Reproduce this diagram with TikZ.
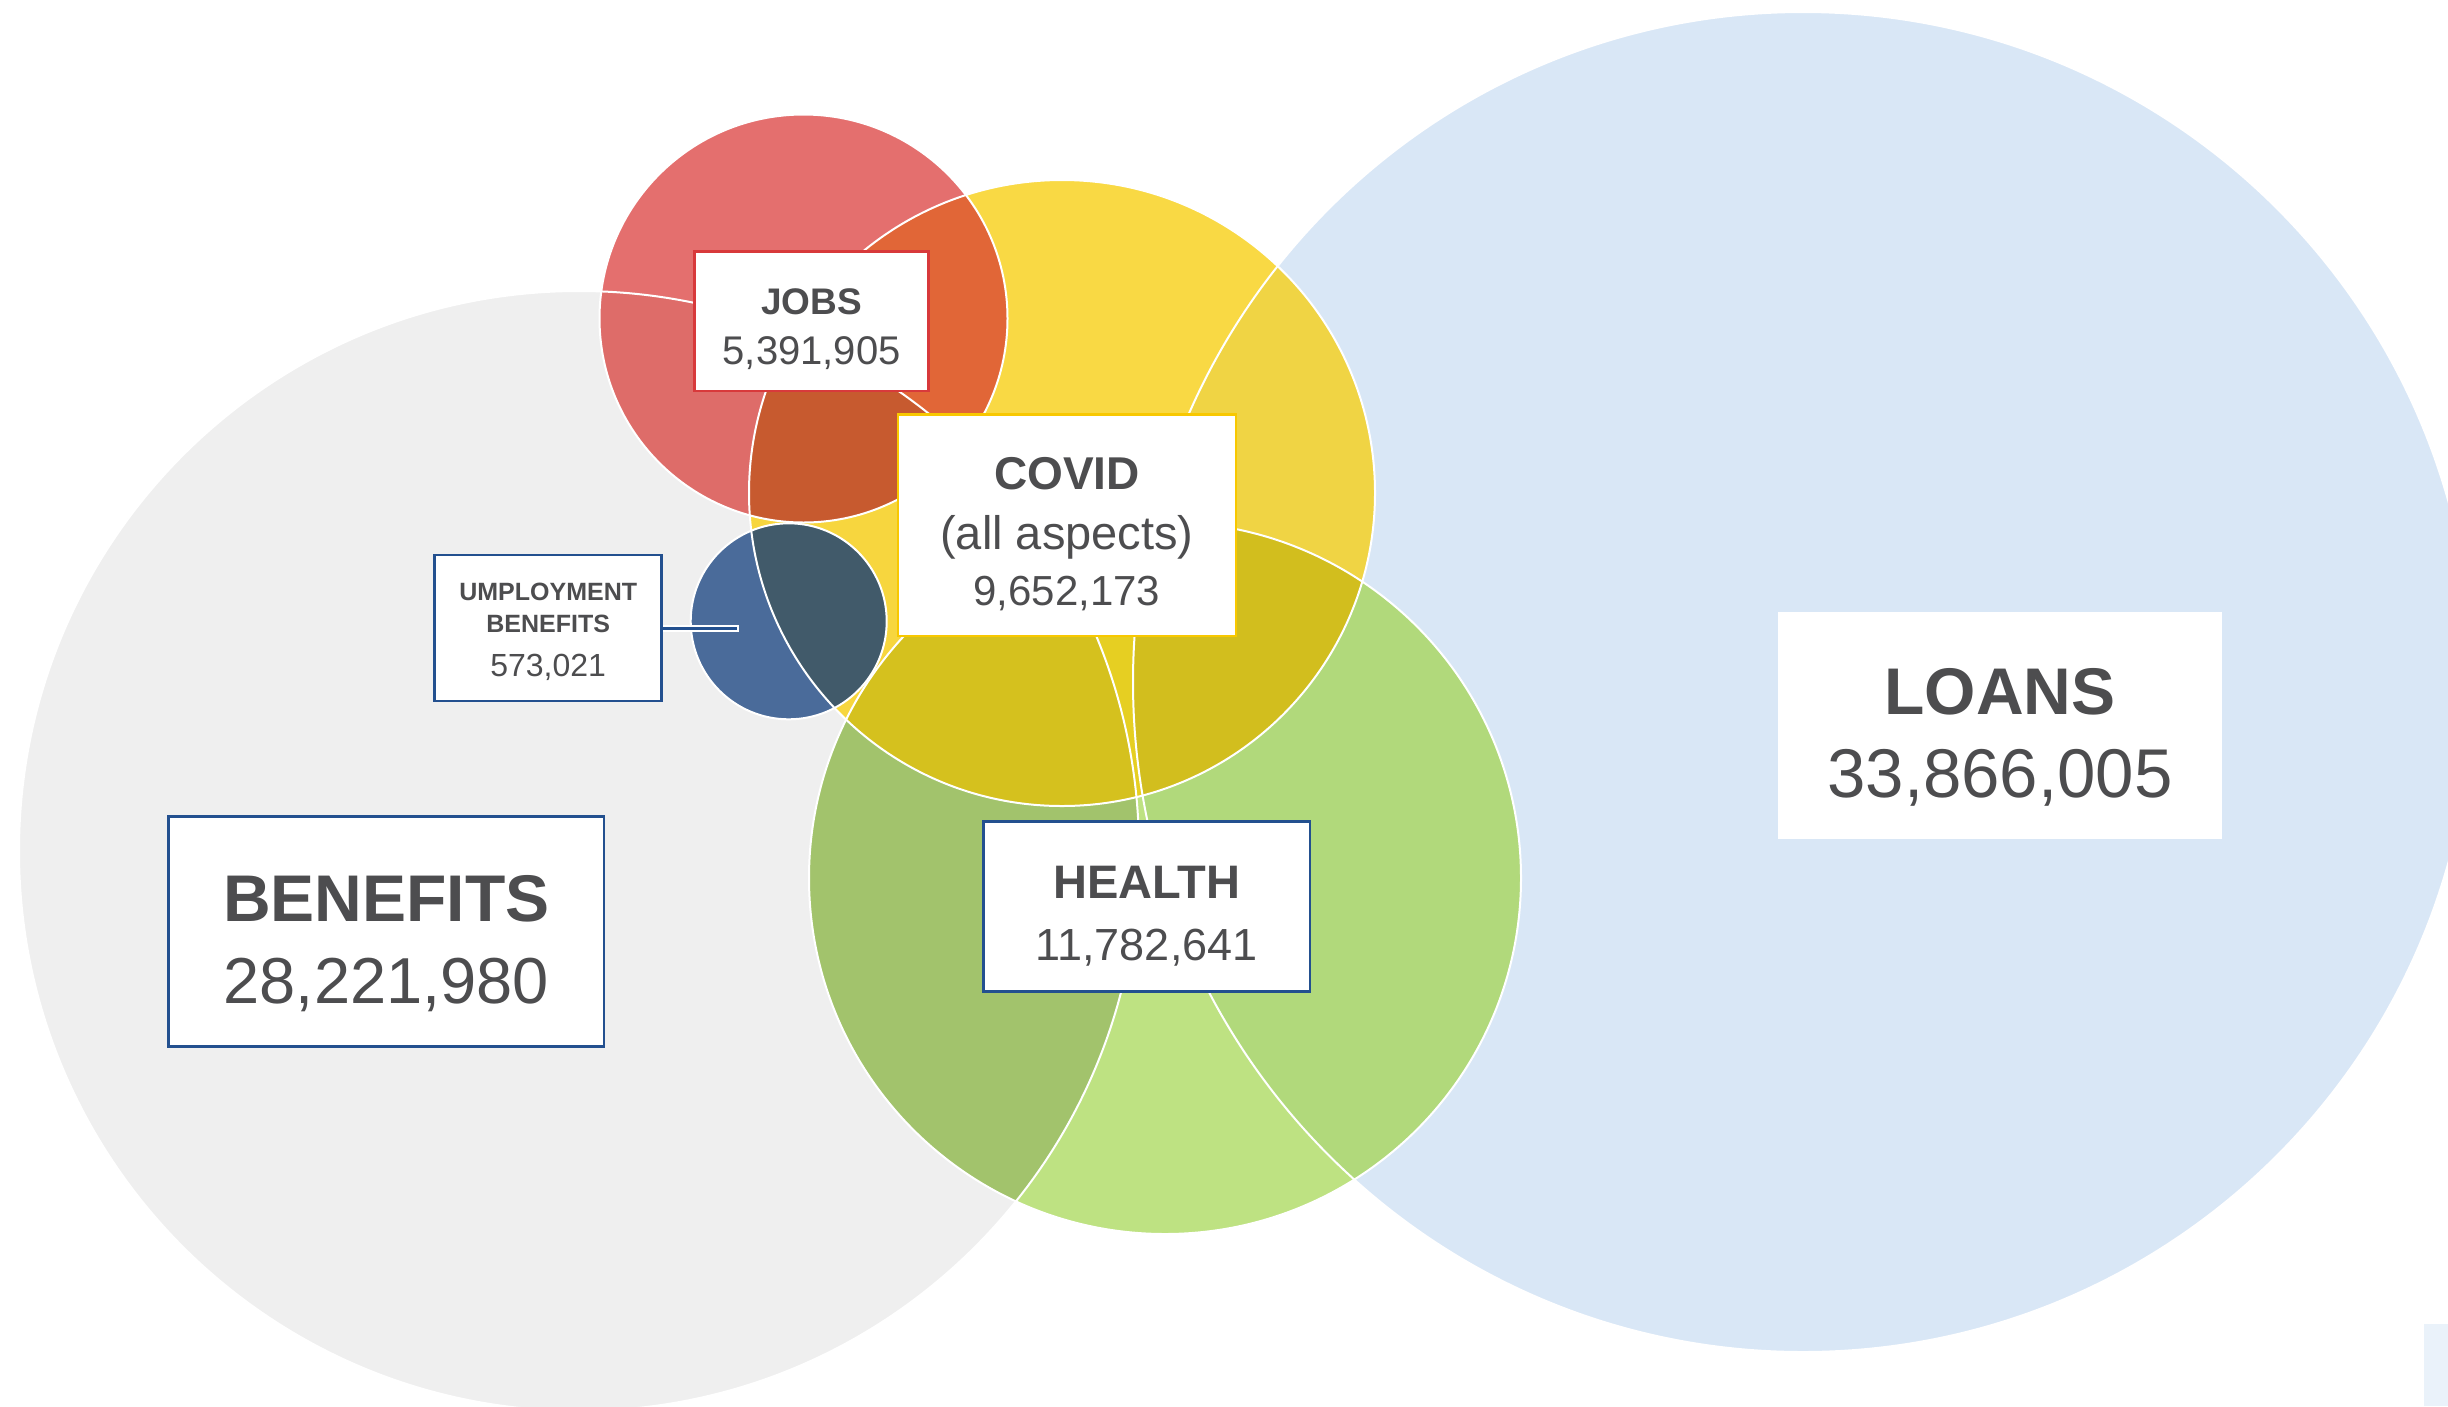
\documentclass[tikz,border=0pt]{standalone}
\usepackage{fontspec}
\setmainfont{Liberation Sans}
\definecolor{txt}{HTML}{4D4D4F}
\definecolor{cL}{HTML}{D9E7F6}
\definecolor{cB}{HTML}{EFEFEF}
\definecolor{cJ}{HTML}{E46F6E}
\definecolor{cJB}{HTML}{DE6C69}
\definecolor{cJC}{HTML}{E16637}
\definecolor{cJCB}{HTML}{C75A2F}
\definecolor{cC}{HTML}{F9D944}
\definecolor{cCL}{HTML}{F0D444}
\definecolor{cCB}{HTML}{F7D63E}
\definecolor{cCH}{HTML}{E6CF22}
\definecolor{cCHB}{HTML}{D5C11E}
\definecolor{cCHL}{HTML}{D2BE1E}
\definecolor{cH}{HTML}{BEE282}
\definecolor{cHB}{HTML}{A2C36C}
\definecolor{cHL}{HTML}{B1D97B}
\definecolor{cU}{HTML}{4A6B9A}
\definecolor{cUC}{HTML}{415A6A}
\definecolor{navy}{HTML}{23508F}
\definecolor{jred}{HTML}{D8393B}
\definecolor{gold}{HTML}{F8C800}
\definecolor{corner}{HTML}{EAF2FA}
\newcommand{\cirL}{(1803,682) circle[radius=670pt]}
\newcommand{\cirB}{(579,851) circle[radius=560pt]}
\newcommand{\cirJ}{(803.5,318.5) circle[radius=204pt]}
\newcommand{\cirC}{(1062,493) circle[radius=313pt]}
\newcommand{\cirH}{(1165,878) circle[radius=356pt]}
\newcommand{\cirU}{(788.7,621.3) circle[radius=98pt]}
\tikzset{
  labelbox/.style={rectangle, fill=white, line width=2.5pt, inner sep=0pt, outer sep=0pt},
  edge/.style={draw=white, line width=2pt},
  bigbold/.style={anchor=base, text=txt, inner sep=0pt, font=\fontsize{66}{66}\selectfont\bfseries},
  bignum/.style={anchor=base, text=txt, inner sep=0pt, font=\fontsize{66}{66}\selectfont},
}
\begin{document}
\begin{tikzpicture}[x=1pt,y=-1pt]
\useasboundingbox (0,0) rectangle (2448,1406);
\fill[white] (0,0) rectangle (2448,1406);
% base circles
\fill[cL] \cirL;
\fill[cB] \cirB;
\fill[cJ] \cirJ;
\fill[cC] \cirC;
\fill[cH] \cirH;
% pairwise overlaps
\begin{scope}\clip \cirJ; \fill[cJB] \cirB; \end{scope}
\begin{scope}\clip \cirC;
  \fill[cJC] \cirJ; \fill[cCL] \cirL; \fill[cCB] \cirB; \fill[cCH] \cirH;
\end{scope}
\begin{scope}\clip \cirH; \fill[cHB] \cirB; \fill[cHL] \cirL; \end{scope}
% triple overlaps
\begin{scope}\clip \cirC; \clip \cirJ; \fill[cJCB] \cirB; \end{scope}
\begin{scope}\clip \cirC; \clip \cirH; \fill[cCHB] \cirB; \fill[cCHL] \cirL; \end{scope}
% unemployment (inside benefits)
\fill[cU] \cirU;
\begin{scope}\clip \cirU; \fill[cUC] \cirC; \end{scope}
% white outlines
\draw[edge] \cirL;
\draw[edge] \cirB;
\draw[edge] \cirJ;
\draw[edge] \cirC;
\draw[edge] \cirH;
\draw[edge] \cirU;
% corner patch
\fill[corner] (2424,1324) rectangle (2448,1406);
% connector
\coordinate (uend) at (739,628);
\node[labelbox, draw=navy, minimum width=227pt, minimum height=145.7pt] (ubox) at (548.2,628) {};
\draw[white, line width=7pt] (ubox.east) -- (uend);
\draw[navy, line width=3pt] (ubox.east) -- ([xshift=-2pt]uend);
\node[labelbox, draw=navy, minimum width=227pt, minimum height=145.7pt] (ubox2) at (548.2,628) {};
% boxes
\node[labelbox, draw=navy, minimum width=435.3pt, minimum height=230pt] (bbox) at (386.35,931.7) {};
\node[labelbox, draw=none, minimum width=444pt, minimum height=227pt] (lbox) at (2000,725.5) {};
\node[labelbox, draw=jred, minimum width=234pt, minimum height=139.3pt] (jbox) at (811.7,321.35) {};
\node[labelbox, draw=gold, minimum width=337.8pt, minimum height=221.7pt] (cbox) at (1066.9,525.15) {};
\node[labelbox, draw=navy, minimum width=326.7pt, minimum height=170pt] (hbox) at (1146.65,906.7) {};
% texts
\node[bigbold] (btitle) at (386.35,921.3) {BENEFITS};
\node[bignum, font=\fontsize{65}{65}\selectfont] (bnum) at (386.35,1003.3) {28,221,980};
\node[bigbold] (ltitle) at (2000,714.3) {LOANS};
\node[bignum, font=\fontsize{69}{69}\selectfont] (lnum) at (2000,797.7) {33,866,005};
\node[bigbold, font=\fontsize{37}{37}\selectfont\bfseries] (jtitle) at (811.7,314) {JOBS};
\node[bignum, font=\fontsize{40}{40}\selectfont] (jnum) at (811.7,364) {5,391,905};
\node[bigbold, font=\fontsize{46}{46}\selectfont\bfseries] (ctitle) at (1066.9,489.3) {COVID};
\node[bignum, font=\fontsize{47}{47}\selectfont] (csub) at (1066.9,549) {(all aspects)};
\node[bignum, font=\fontsize{42}{42}\selectfont] (cnum) at (1066.9,605.3) {9,652,173};
\node[bigbold, font=\fontsize{47}{47}\selectfont\bfseries] (htitle) at (1146.65,898.3) {HEALTH};
\node[bignum, font=\fontsize{45}{45}\selectfont] (hnum) at (1146.65,960) {11,782,641};
\node[bigbold, font=\fontsize{25}{25}\selectfont\bfseries] (ut1) at (548.2,600) {UMPLOYMENT};
\node[bigbold, font=\fontsize{25}{25}\selectfont\bfseries] (ut2) at (548.2,632) {BENEFITS};
\node[bignum, font=\fontsize{32}{32}\selectfont] (unum) at (548.2,676) {573,021};
\end{tikzpicture}
\end{document}
